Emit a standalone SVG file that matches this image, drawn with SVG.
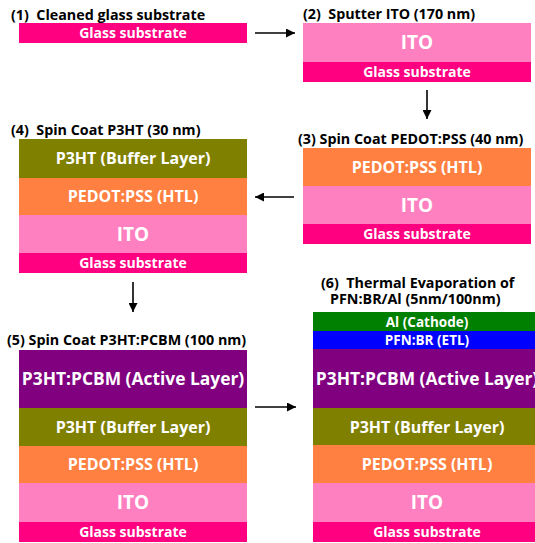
<svg xmlns="http://www.w3.org/2000/svg" width="535" height="543" viewBox="0 0 535 543">
<defs>
<marker id="ah" markerWidth="9" markerHeight="9" refX="9" refY="4.5" orient="auto" markerUnits="userSpaceOnUse">
<path d="M0,0 L9,4.5 L0,9 z" fill="#000"/>
</marker>
<style>
text{font-family:"Open Sans","Liberation Sans",sans-serif;font-weight:700;}
.t{font-size:14.3px;fill:#000;white-space:pre;}
.l{fill:#fff;text-anchor:middle;}
.gl{font-size:14px;}
.ito{font-size:19px;}
.md{font-size:16px;}
.ac{font-size:17.4px;}
.sm{font-size:13.5px;}
.glass{fill:#FF0080;}
.itof{fill:#FF80C0;}
.ped{fill:#FF8040;}
.p3{fill:#808000;}
.act{fill:#800080;}
.pfn{fill:#0000FF;}
.al{fill:#008000;}
.c{stroke:#000;stroke-width:1.6;fill:none;marker-end:url(#ah);}
</style>
</defs>
<rect width="535" height="543" fill="#fff"/>

<g id="step1">
<text class="t" x="11" y="20" xml:space="preserve">(1)  Cleaned glass substrate</text>
<rect class="glass" x="19" y="23" width="228" height="20"/>
<text class="l gl" x="133" y="38">Glass substrate</text>
</g>

<g id="step2">
<text class="t" x="303" y="19" xml:space="preserve">(2)  Sputter ITO (170 nm)</text>
<rect class="itof" x="303" y="23" width="228" height="39"/>
<rect class="glass" x="303" y="62" width="228" height="20"/>
<text class="l ito" x="417" y="49">ITO</text>
<text class="l gl" x="417" y="76.5">Glass substrate</text>
</g>

<g id="step3">
<text class="t" x="298" y="144">(3) Spin Coat PEDOT:PSS (40 nm)</text>
<rect class="ped" x="303" y="148" width="228" height="38"/>
<rect class="itof" x="303" y="186" width="228" height="38"/>
<rect class="glass" x="303" y="224" width="228" height="20"/>
<text class="l md" x="417" y="173">PEDOT:PSS (HTL)</text>
<text class="l ito" x="417" y="211.5">ITO</text>
<text class="l gl" x="417" y="239">Glass substrate</text>
</g>

<g id="step4">
<text class="t" x="11" y="135" xml:space="preserve">(4)  Spin Coat P3HT (30 nm)</text>
<rect class="p3" x="19" y="139" width="228" height="39"/>
<rect class="ped" x="19" y="178" width="228" height="37"/>
<rect class="itof" x="19" y="215" width="228" height="38"/>
<rect class="glass" x="19" y="253" width="228" height="20"/>
<text class="l md" x="133" y="164">P3HT (Buffer Layer)</text>
<text class="l md" x="133" y="202">PEDOT:PSS (HTL)</text>
<text class="l ito" x="133" y="240.5">ITO</text>
<text class="l gl" x="133" y="268">Glass substrate</text>
</g>

<g id="step5">
<text class="t" x="7" y="345">(5) Spin Coat P3HT:PCBM (100 nm)</text>
<rect class="act" x="19" y="350" width="228" height="58"/>
<rect class="p3" x="19" y="408" width="228" height="38"/>
<rect class="ped" x="19" y="446" width="228" height="37"/>
<rect class="itof" x="19" y="483" width="228" height="39"/>
<rect class="glass" x="19" y="522" width="228" height="20"/>
<text class="l ac" x="133" y="385">P3HT:PCBM (Active Layer)</text>
<text class="l md" x="133" y="433">P3HT (Buffer Layer)</text>
<text class="l md" x="133" y="470">PEDOT:PSS (HTL)</text>
<text class="l ito" x="133" y="509">ITO</text>
<text class="l gl" x="133" y="537">Glass substrate</text>
</g>

<g id="step6">
<text class="t" x="321" y="287.5" xml:space="preserve">(6)  Thermal Evaporation of</text>
<text class="t" x="330" y="304">PFN:BR/Al (5nm/100nm)</text>
<rect class="al" x="313" y="312" width="228" height="19"/>
<rect class="pfn" x="313" y="331" width="228" height="18"/>
<rect class="act" x="313" y="349" width="228" height="59"/>
<rect class="p3" x="313" y="408" width="228" height="37"/>
<rect class="ped" x="313" y="445" width="228" height="38"/>
<rect class="itof" x="313" y="483" width="228" height="39"/>
<rect class="glass" x="313" y="522" width="228" height="20"/>
<text class="l sm" x="427" y="326.5">Al (Cathode)</text>
<text class="l sm" x="427" y="345">PFN:BR (ETL)</text>
<text class="l ac" x="427" y="385">P3HT:PCBM (Active Layer)</text>
<text class="l md" x="427" y="433">P3HT (Buffer Layer)</text>
<text class="l md" x="427" y="470">PEDOT:PSS (HTL)</text>
<text class="l ito" x="427" y="509">ITO</text>
<text class="l gl" x="427" y="537">Glass substrate</text>
</g>

<g id="connectors">
<line class="c" x1="255" y1="33" x2="295" y2="33"/>
<line class="c" x1="427" y1="90" x2="427" y2="119"/>
<line class="c" x1="294" y1="197" x2="255" y2="197"/>
<line class="c" x1="133" y1="282" x2="133" y2="312"/>
<line class="c" x1="255" y1="407" x2="296" y2="407"/>
</g>
</svg>
